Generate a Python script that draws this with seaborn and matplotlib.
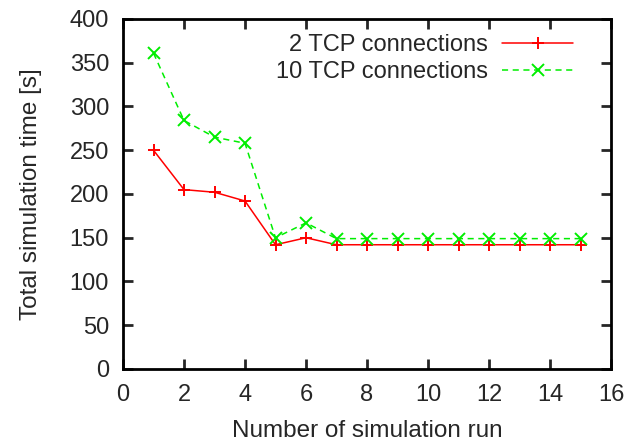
import pandas as pd
import seaborn as sns
import matplotlib.pyplot as plt

# values
runs = list(range(1, 16))
tcp2 = [250, 205, 202, 192, 142, 150, 142, 142, 142, 142, 142, 142, 142, 142, 142]
tcp10 = [361, 284, 265, 258, 150, 167, 149, 149, 149, 149, 149, 149, 149, 149, 149]
series_names = ['2 TCP connections', '10 TCP connections']

df = pd.DataFrame({
    'run': runs * 2,
    'time': tcp2 + tcp10,
    'series': [series_names[0]] * len(runs) + [series_names[1]] * len(runs),
})

sns.set_style('ticks')
plt.rcParams['font.family'] = ['Liberation Sans', 'DejaVu Sans']

fig = plt.figure(figsize=(6.25, 4.47), dpi=100)
ax = fig.add_axes([0.1968, 0.1745, 0.7808, 0.783])

sns.lineplot(
    data=df, x='run', y='time', hue='series', style='series',
    hue_order=series_names, style_order=series_names,
    palette=['#ff0000', '#00ee00'],
    markers={series_names[0]: '+', series_names[1]: 'x'},
    dashes={series_names[0]: '', series_names[1]: (4, 3)},
    linewidth=1.1, markersize=9, mew=1.4,
    legend=False, ax=ax,
)
# seaborn paints marker edges white; give them the line colour
for line in ax.lines:
    line.set_markeredgecolor(line.get_color())

ax.set_xlim(0, 16)
ax.set_ylim(0, 400)
ax.set_xticks(range(0, 17, 2))
ax.set_yticks(range(0, 401, 50))
ax.tick_params(direction='in', top=True, right=True, length=7, width=2,
               labelsize=17)
ax.tick_params(axis='x', pad=11)
ax.tick_params(axis='y', pad=10)
for s in ax.spines.values():
    s.set_linewidth(2)
    s.set_color('black')

ax.set_xlabel('Number of simulation run', fontsize=17.5, labelpad=10)
ax.set_ylabel('Total simulation time [s]', fontsize=17.5, labelpad=20)

leg = ax.legend(ax.lines[:2], series_names, loc='upper right',
                bbox_to_anchor=(0.922, 0.956), frameon=False, markerfirst=False,
                fontsize=17, handlelength=3.0, borderaxespad=0, borderpad=0,
                labelspacing=0.2, handletextpad=0.6)
for t in leg.get_texts():
    t.set_ha('right')

fig.savefig('out.png', dpi=100)
